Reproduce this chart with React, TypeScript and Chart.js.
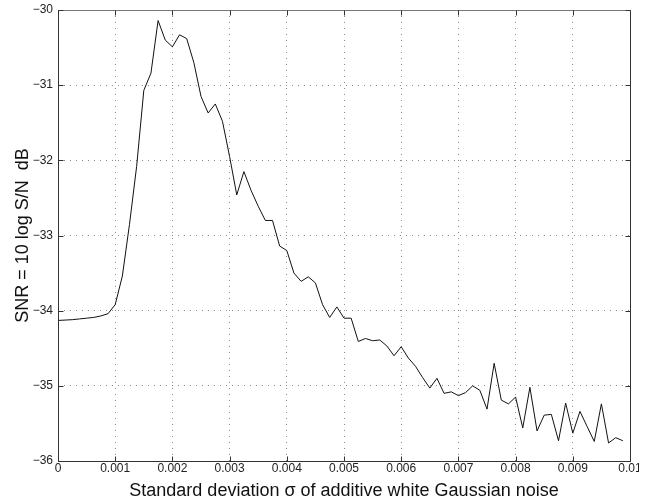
import React, { useEffect, useRef } from "react";
import { Chart, registerables } from "chart.js";

Chart.register(...registerables);

// Noise standard deviation (x) and resulting SNR in dB (y)
const sigma = [
  0, 0.000125, 0.00025, 0.000375, 0.0005, 0.000625, 0.00075, 0.000875,
  0.001, 0.001125, 0.00125, 0.001375, 0.0015, 0.001625, 0.00175, 0.001875,
  0.002, 0.002125, 0.00225, 0.002375, 0.0025, 0.002625, 0.00275, 0.002875,
  0.003, 0.003125, 0.00325, 0.003375, 0.0035, 0.003625, 0.00375, 0.003875,
  0.004, 0.004125, 0.00425, 0.004375, 0.0045, 0.004625, 0.00475, 0.004875,
  0.005, 0.005125, 0.00525, 0.005375, 0.0055, 0.005625, 0.00575, 0.005875,
  0.006, 0.006125, 0.00625, 0.006375, 0.0065, 0.006625, 0.00675, 0.006875,
  0.007, 0.007125, 0.00725, 0.007375, 0.0075, 0.007625, 0.00775, 0.007875,
  0.008, 0.008125, 0.00825, 0.008375, 0.0085, 0.008625, 0.00875, 0.008875,
  0.009, 0.009125, 0.00925, 0.009375, 0.0095, 0.009625, 0.00975, 0.009875,
];

const snrDb = [
  -34.13, -34.125, -34.12, -34.11, -34.1, -34.09, -34.07, -34.04,
  -33.92, -33.54, -32.85, -32.08, -31.07, -30.84, -30.14, -30.4,
  -30.49, -30.33, -30.38, -30.7, -31.15, -31.37, -31.25, -31.48,
  -31.95, -32.46, -32.15, -32.4, -32.61, -32.8, -32.8, -33.14,
  -33.2, -33.5, -33.61, -33.55, -33.63, -33.92, -34.09, -33.95,
  -34.1, -34.1, -34.41, -34.37, -34.4, -34.39, -34.47, -34.6,
  -34.48, -34.63, -34.74, -34.89, -35.03, -34.9, -35.1, -35.08,
  -35.13, -35.09, -35.0, -35.06, -35.31, -34.7, -35.19, -35.24,
  -35.15, -35.56, -35.02, -35.6, -35.39, -35.38, -35.73, -35.23,
  -35.63, -35.34, -35.54, -35.74, -35.24, -35.76, -35.69, -35.73,
];

const xTickLabels = [
  "0", "0.001", "0.002", "0.003", "0.004", "0.005",
  "0.006", "0.007", "0.008", "0.009", "0.01",
];
const yTickLabels = ["\u221236", "\u221235", "\u221234", "\u221233", "\u221232", "\u221231", "\u221230"];

const xTitle = "Standard deviation \u03c3 of additive white Gaussian noise";
const yTitle = "SNR = 10 log S/N  dB";

const FONT = "'Liberation Sans', Arial, Helvetica, sans-serif";
const CANVAS_W = 639;
const CANVAS_H = 504;

// Box frame with inward tick marks on all four sides
const boxFrame = {
  id: "boxFrame",
  afterDatasetsDraw(chart: any) {
    const { ctx, chartArea, scales } = chart;
    const { left, right, top, bottom } = chartArea;
    const xs = scales.x;
    const ys = scales.y;
    const L = left + 0.5;
    const R = right + 0.5;
    const T = top + 0.5;
    const B = bottom + 0.5;
    const len = 5;
    ctx.save();
    ctx.lineWidth = 1;
    ctx.strokeStyle = "#333";
    ctx.beginPath();
    ctx.moveTo(L, T);
    ctx.lineTo(L, B);
    ctx.lineTo(R, B);
    ctx.lineTo(R, T);
    ctx.stroke();
    ctx.strokeStyle = "#777";
    ctx.beginPath();
    ctx.moveTo(L, T);
    ctx.lineTo(R, T);
    ctx.stroke();
    ctx.strokeStyle = "#333";
    ctx.beginPath();
    xs.ticks.forEach((t: any) => {
      const px = Math.round(xs.getPixelForValue(t.value)) + 0.5;
      ctx.moveTo(px, B);
      ctx.lineTo(px, B - len);
      ctx.moveTo(px, T);
      ctx.lineTo(px, T + len);
    });
    ys.ticks.forEach((t: any) => {
      const py = Math.round(ys.getPixelForValue(t.value)) + 0.5;
      ctx.moveTo(L, py);
      ctx.lineTo(L + len, py);
      ctx.moveTo(R, py);
      ctx.lineTo(R - len, py);
    });
    ctx.stroke();
    ctx.restore();
  },
};

export default function App() {
  const canvasRef = useRef<HTMLCanvasElement | null>(null);

  useEffect(() => {
    const canvas = canvasRef.current;
    if (!canvas) return;
    const points = sigma.map((s, i) => ({ x: s, y: snrDb[i] }));
    const chart = new Chart(canvas, {
      type: "line",
      data: {
        datasets: [
          {
            data: points,
            borderColor: "#111",
            borderWidth: 1,
            pointRadius: 0,
            tension: 0,
            fill: false,
          },
        ],
      },
      options: {
        animation: false,
        responsive: false,
        events: [],
        layout: { padding: { left: 0, top: 10, right: CANVAS_W - 630, bottom: 0 } },
        plugins: {
          legend: { display: false },
          tooltip: { enabled: false },
          title: { display: false },
        },
        scales: {
          x: {
            type: "linear",
            min: 0,
            max: 0.01,
            afterFit: (scale: any) => {
              scale.height = 43;
              scale.paddingLeft = 0;
              scale.paddingRight = 0;
            },
            ticks: {
              stepSize: 0.001,
              autoSkip: false,
              maxRotation: 0,
              padding: 0,
              color: "#222",
              font: { family: FONT, size: 12 },
              callback: (_v: any, i: number) => xTickLabels[i],
            },
            grid: {
              drawTicks: false,
              color: "#8c8c8c",
              lineWidth: 1,
            },
            border: { display: false, dash: [1, 5] },
            title: {
              display: true,
              text: xTitle,
              color: "#111",
              font: { family: FONT, size: 18 },
              padding: { top: 0, bottom: 2 },
            },
          },
          y: {
            type: "linear",
            min: -36,
            max: -30,
            afterFit: (scale: any) => {
              scale.width = 58;
              scale.paddingTop = 0;
              scale.paddingBottom = 0;
            },
            ticks: {
              stepSize: 1,
              padding: 5,
              color: "#222",
              font: { family: FONT, size: 12 },
              callback: (_v: any, i: number) => yTickLabels[i],
            },
            grid: {
              drawTicks: false,
              color: "#8c8c8c",
              lineWidth: 1,
            },
            border: { display: false, dash: [1, 5] },
            title: {
              display: true,
              text: yTitle,
              color: "#111",
              font: { family: FONT, size: 18 },
              padding: { top: 12, bottom: 0 },
            },
          },
        },
      },
      plugins: [boxFrame],
    });
    return () => chart.destroy();
  }, []);

  return (
    <div
      style={{
        position: "absolute",
        left: 0,
        top: 0,
        width: CANVAS_W,
        height: CANVAS_H,
        background: "#fff",
      }}
    >
      <canvas
        ref={canvasRef}
        width={CANVAS_W}
        height={CANVAS_H}
        style={{ display: "block", width: CANVAS_W, height: CANVAS_H }}
      />
    </div>
  );
}
